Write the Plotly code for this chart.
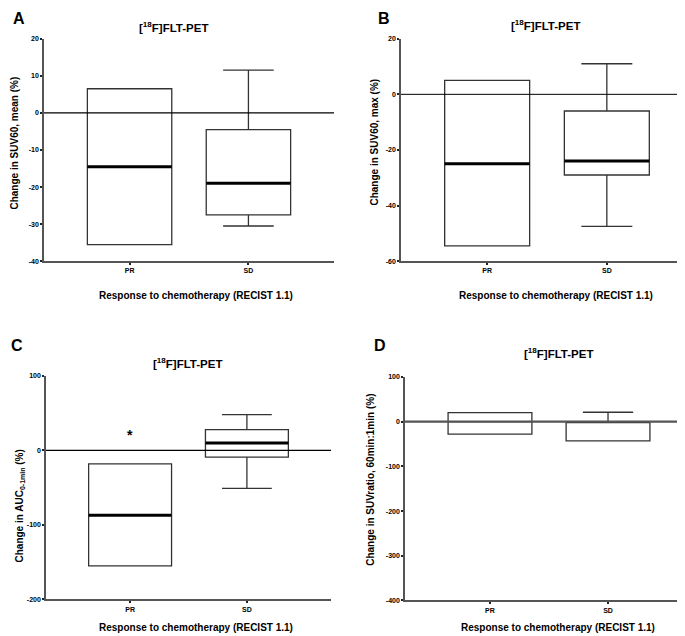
import plotly.graph_objects as go

categories = ["PR", "SD"]

# Panel A: Change in SUV60, mean (%)
a_q1 = [-35.5, -27.5]
a_med = [-14.5, -19.0]
a_q3 = [6.5, -4.5]
a_lo = [-35.5, -30.5]
a_hi = [6.5, 11.5]

# Panel B: Change in SUV60, max (%)
b_q1 = [-54.5, -29.0]
b_med = [-25.0, -24.0]
b_q3 = [5.0, -6.0]
b_lo = [-54.5, -47.5]
b_hi = [5.0, 11.0]

# Panel C: Change in AUC0-1min (%)
c_q1 = [-155.0, -9.0]
c_med = [-87.0, 10.0]
c_q3 = [-18.0, 28.0]
c_lo = [-155.0, -51.0]
c_hi = [-18.0, 48.0]
c_star_y = [21.0]

# Panel D: Change in SUVratio, 60min:1min (%)
d_q1 = [-28.0, -43.0]
d_med = [0.0, 0.0]
d_q3 = [20.0, 0.0]
d_lo = [-28.0, -43.0]
d_hi = [20.0, 21.0]

W, H = 685, 636
FONT = "Liberation Sans, Arial, sans-serif"
BOXW = 0.71
XR = [-0.72, 1.72]

panels = [
    dict(letter="A", q1=a_q1, med=a_med, q3=a_q3, lo=a_lo, hi=a_hi, medw=3,
         xpx=(36, 326), ypx=(27, 252), yr=[-40, 20], dt=10,
         ytitle="Change in SUV60, mean (%)", yt_xy=(7, 133), zero=("black", 1.2),
         title_xy=(165, 15), letter_xy=(11, 7), xt_xy=(188, 287)),
    dict(letter="B", q1=b_q1, med=b_med, q3=b_q3, lo=b_lo, hi=b_hi, medw=3,
         xpx=(393, 685), ypx=(27, 252), yr=[-60, 20], dt=20,
         ytitle="Change in SUV60, max (%)", yt_xy=(367, 132), zero=("black", 1.0),
         title_xy=(537, 13), letter_xy=(376, 7), xt_xy=(548, 287)),
    dict(letter="C", q1=c_q1, med=c_med, q3=c_q3, lo=c_lo, hi=c_hi, medw=3,
         xpx=(38, 323), ypx=(368, 594), yr=[-200, 100], dt=100,
         ytitle="Change in AUC<sub>0-1min</sub> (%)", yt_xy=(12, 500), zero=("black", 1.2),
         title_xy=(179, 355), letter_xy=(9, 337), xt_xy=(188, 622)),
    dict(letter="D", q1=d_q1, med=d_med, q3=d_q3, lo=d_lo, hi=d_hi, medw=0,
         xpx=(397, 685), ypx=(369, 595), yr=[-400, 100], dt=100,
         ytitle="Change in SUVratio, 60min:1min (%)", yt_xy=(363, 473), zero=("#555555", 2.2),
         title_xy=(550, 345), letter_xy=(372, 337), xt_xy=(550, 622)),
]

fig = go.Figure()
annotations = []
shapes = []
layout = {}

for i, p in enumerate(panels):
    n = "" if i == 0 else str(i + 1)
    xa, ya = "x" + n, "y" + n
    xdom = [p["xpx"][0] / W, p["xpx"][1] / W]
    ydom = [1 - p["ypx"][1] / H, 1 - p["ypx"][0] / H]
    layout["xaxis" + n] = dict(
        domain=xdom, range=XR, anchor=ya, tickmode="array",
        tickvals=list(range(len(categories))),
        ticktext=["<b>" + c + "</b>" for c in categories],
        ticks="outside", ticklen=2, tickwidth=2, tickcolor="#222",
        showline=True, linecolor="#555", linewidth=1.5, showgrid=False,
        zeroline=False, tickfont=dict(family=FONT, size=7, color="black"),
    )
    tv = list(range(p["yr"][0], p["yr"][1] + 1, p["dt"]))
    layout["yaxis" + n] = dict(
        domain=ydom, range=p["yr"], anchor=xa, tickmode="array",
        tickvals=tv, ticktext=["<b>" + str(v) + "</b>" for v in tv],
        ticks="outside", ticklen=2, tickwidth=2, tickcolor="#222",
        showline=True, linecolor="#555", linewidth=1.5, showgrid=False,
        zeroline=False, tickfont=dict(family=FONT, size=7, color="black"),
    )
    xs = list(range(len(categories)))
    fig.add_trace(go.Box(
        x=xs, q1=p["q1"], median=p["med"], q3=p["q3"],
        lowerfence=p["lo"], upperfence=p["hi"],
        width=BOXW, whiskerwidth=0.6, fillcolor="white",
        line=dict(color="#333", width=1.3), boxpoints=False,
        xaxis=xa, yaxis=ya, showlegend=False, hoverinfo="skip",
    ))
    if p["medw"] > 0:
        for j, c in enumerate(xs):
            fig.add_trace(go.Scatter(
                x=[c - BOXW / 2, c + BOXW / 2], y=[p["med"][j], p["med"][j]],
                mode="lines", line=dict(color="black", width=p["medw"]),
                xaxis=xa, yaxis=ya, showlegend=False, hoverinfo="skip",
            ))
    zc, zw = p["zero"]
    shapes.append(dict(type="line", xref=xa + " domain", yref=ya,
                       x0=0, x1=1, y0=0, y1=0,
                       line=dict(color=zc, width=zw), layer="above"))
    tx, ty = p["title_xy"]
    annotations.append(dict(text="<b>[<sup>18</sup>F]FLT-PET</b>", x=tx / W, y=1 - ty / H,
                            xref="paper", yref="paper", showarrow=False,
                            xanchor="center", yanchor="middle",
                            font=dict(family=FONT, size=11.5, color="black")))
    lx, ly = p["letter_xy"]
    annotations.append(dict(text="<b>" + p["letter"] + "</b>", x=lx / W, y=1 - ly / H,
                            xref="paper", yref="paper", showarrow=False,
                            xanchor="center", yanchor="middle",
                            font=dict(family=FONT, size=16, color="black")))
    xx, xy = p["xt_xy"]
    annotations.append(dict(text="<b>Response to chemotherapy (RECIST 1.1)</b>",
                            x=xx / W, y=1 - xy / H,
                            xref="paper", yref="paper", showarrow=False,
                            xanchor="center", yanchor="middle",
                            font=dict(family=FONT, size=10, color="black")))
    yx, yy = p["yt_xy"]
    annotations.append(dict(text="<b>" + p["ytitle"] + "</b>", x=yx / W, y=1 - yy / H,
                            xref="paper", yref="paper", showarrow=False, textangle=-90,
                            xanchor="center", yanchor="middle",
                            font=dict(family=FONT, size=10, color="black")))

annotations.append(dict(text="<b>*</b>", x=0, y=c_star_y[0], xref="x3", yref="y3",
                        showarrow=False, xanchor="center", yanchor="middle",
                        font=dict(family=FONT, size=14, color="black")))

fig.update_layout(
    width=W, height=H, margin=dict(l=0, r=0, t=0, b=0),
    paper_bgcolor="white", plot_bgcolor="white",
    annotations=annotations, shapes=shapes, showlegend=False,
    **layout,
)

fig.write_html("out.html")
